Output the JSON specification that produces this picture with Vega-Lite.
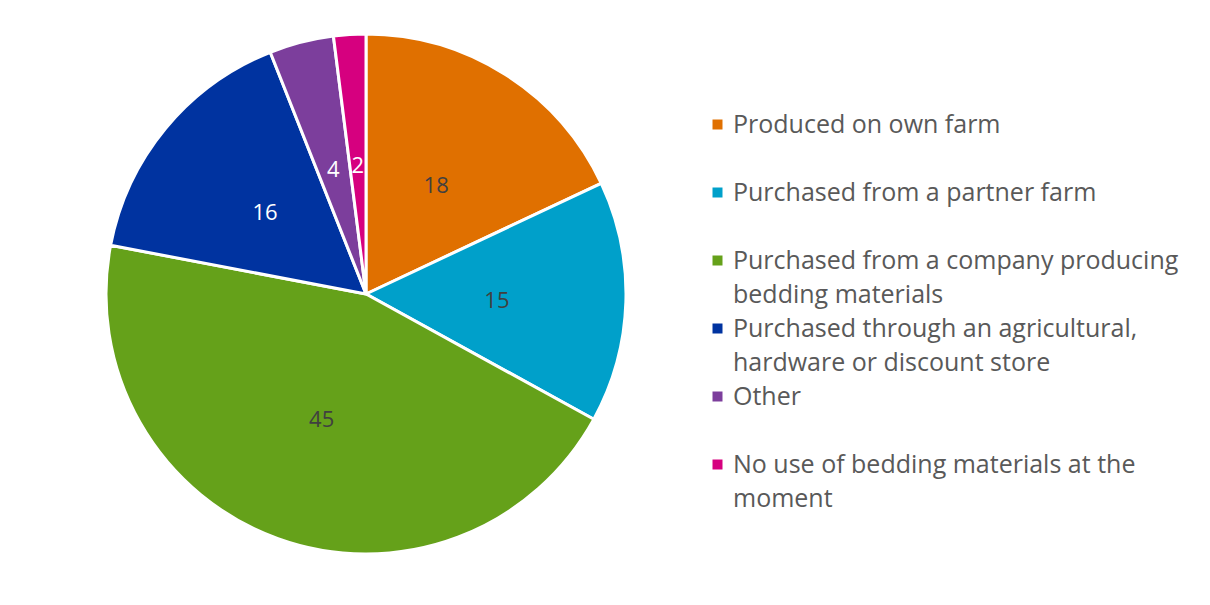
{
  "$schema": "https://vega.github.io/schema/vega-lite/v6.json",
  "width": 728,
  "height": 584,
  "padding": {"left": 2, "top": 2, "right": 0, "bottom": 19},
  "background": "white",
  "config": {"view": {"stroke": null}, "style": {"guide-label": {"lineHeight": 34}}},
  "data": {
    "values": [
      {"category": "Produced on own farm", "value": 18, "order": 1},
      {"category": "Purchased from a partner farm", "value": 15, "order": 2},
      {"category": "Purchased from a company producing bedding materials", "value": 45, "order": 3},
      {"category": "Purchased through an agricultural, hardware or discount store", "value": 16, "order": 4},
      {"category": "Other", "value": 4, "order": 5},
      {"category": "No use of bedding materials at the moment", "value": 2, "order": 6}
    ]
  },
  "encoding": {
    "theta": {"field": "value", "type": "quantitative", "stack": true},
    "order": {"field": "order", "type": "quantitative"}
  },
  "layer": [
    {
      "mark": {"type": "arc", "outerRadius": 260, "stroke": "white", "strokeWidth": 3},
      "encoding": {
        "color": {
          "field": "category",
          "type": "nominal",
          "sort": null,
          "scale": {
            "domain": ["Produced on own farm", "Purchased from a partner farm", "Purchased from a company producing bedding materials", "Purchased through an agricultural, hardware or discount store", "Other", "No use of bedding materials at the moment"],
            "range": ["#E07000", "#00A0CA", "#65A11A", "#0033A0", "#7C3E9C", "#D6007F"]
          },
          "legend": {
            "title": null,
            "orient": "none",
            "legendX": 703,
            "legendY": 110,
            "symbolType": "square",
            "symbolSize": 100,
            "symbolStrokeWidth": 0,
            "labelFont": "Open Sans",
            "labelFontSize": 25,
            "labelColor": "#595959",
            "labelOffset": 3,
            "labelLimit": 700,
            "labelBaseline": "middle",
            "rowPadding": 8,
            "padding": 0,
            "encode": {"labels": {"enter": {"lineHeight": {"value": 34}}, "update": {"lineHeight": {"value": 34}}}},
            "labelExpr": "datum.label == 'Purchased from a company producing bedding materials' ? ['Purchased from a company producing', 'bedding materials'] : datum.label == 'Purchased through an agricultural, hardware or discount store' ? ['Purchased through an agricultural,', 'hardware or discount store'] : datum.label == 'No use of bedding materials at the moment' ? ['No use of bedding materials at the', 'moment'] : [datum.label, '']"
          }
        }
      }
    },
    {
      "mark": {"type": "text", "radius": 131, "font": "Open Sans", "fontSize": 22, "dy": 3},
      "encoding": {
        "text": {"field": "value", "type": "quantitative"},
        "color": {
          "condition": {"test": "datum.order >= 4", "value": "white"},
          "value": "#404040"
        }
      }
    }
  ]
}
